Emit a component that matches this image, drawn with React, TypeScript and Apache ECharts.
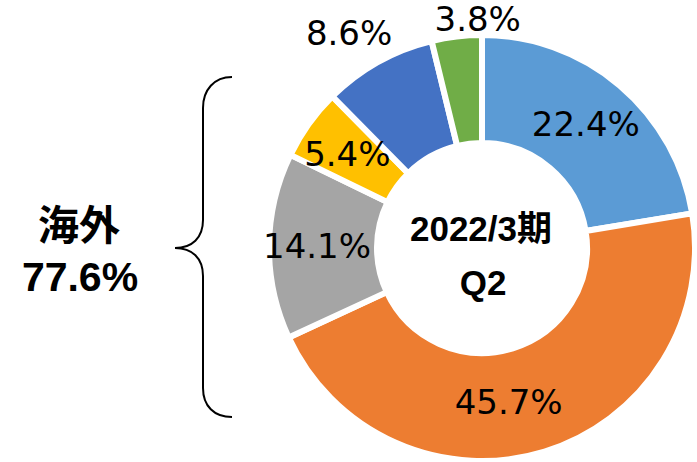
import React, { useEffect, useRef } from "react";
import * as echarts from "echarts";

const categories = ["A", "B", "C", "D", "E", "F"];
const values = [22.4, 45.7, 14.1, 5.4, 8.6, 3.8];
const colors = ["#5B9BD5", "#ED7D31", "#A5A5A5", "#FFC000", "#4472C4", "#70AD47"];
const labelOffsets = [
  [-1, 0],
  [-21, -1],
  [-3, 0],
  [-3, 0],
  [-54, -74],
  [15, -68],
];
const centerTitle = "2022/3期";
const centerSub = "Q2";
const sideTitle = "海外";
const sideValue = "77.6%";

export default function App() {
  const ref = useRef<HTMLDivElement>(null);
  useEffect(() => {
    document.body.style.margin = "0";
    const chart = echarts.init(ref.current!, null, { renderer: "svg" });
    const boldFont = "'Liberation Sans', 'Noto Sans CJK JP', sans-serif";
    chart.setOption({
      animation: false,
      backgroundColor: "#ffffff",
      series: [
        {
          type: "pie",
          center: [482, 248],
          radius: [105, 213],
          startAngle: 90,
          clockwise: true,
          avoidLabelOverlap: false,
          itemStyle: { borderColor: "#ffffff", borderWidth: 6 },
          label: {
            show: true,
            position: "inside",
            color: "#000000",
            fontSize: 34,
            fontFamily: "'DejaVu Sans', sans-serif",
            formatter: (p: any) => p.value.toFixed(1) + "%",
          },
          labelLine: { show: false },
          labelLayout: (p: any) => ({
            dx: labelOffsets[p.dataIndex][0],
            dy: labelOffsets[p.dataIndex][1],
          }),
          emphasis: { disabled: true },
          data: categories.map((c, i) => ({
            name: c,
            value: values[i],
            itemStyle: { color: colors[i] },
          })),
        },
      ],
      graphic: [
        {
          type: "text",
          x: 481,
          y: 228,
          style: {
            text: centerTitle,
            fontSize: 35,
            fontWeight: "bold",
            fontFamily: boldFont,
            fill: "#000",
            align: "center",
            verticalAlign: "middle",
          },
        },
        {
          type: "text",
          x: 483,
          y: 282,
          style: {
            text: centerSub,
            fontSize: 35,
            fontWeight: "bold",
            fontFamily: boldFont,
            fill: "#000",
            align: "center",
            verticalAlign: "middle",
          },
        },
        {
          type: "text",
          x: 79,
          y: 222,
          style: {
            text: sideTitle,
            fontSize: 41,
            fontWeight: "bold",
            fontFamily: "'Noto Sans CJK JP', sans-serif",
            fill: "#000",
            align: "center",
            verticalAlign: "middle",
          },
        },
        {
          type: "text",
          x: 80,
          y: 277,
          style: {
            text: sideValue,
            fontSize: 41,
            fontWeight: "bold",
            fontFamily: boldFont,
            fill: "#000",
            align: "center",
            verticalAlign: "middle",
          },
        },
        {
          type: "group",
          children: [
            { type: "bezierCurve", shape: { x1: 232, y1: 77, cpx1: 214, cpy1: 77, cpx2: 203, cpy2: 90, x2: 203, y2: 108 }, style: { stroke: "#000", lineWidth: 2, fill: "none" } },
            { type: "line", shape: { x1: 203, y1: 108, x2: 203, y2: 220 }, style: { stroke: "#000", lineWidth: 2 } },
            { type: "bezierCurve", shape: { x1: 203, y1: 220, cpx1: 203, cpy1: 238, cpx2: 192, cpy2: 248, x2: 175, y2: 248 }, style: { stroke: "#000", lineWidth: 2, fill: "none" } },
            { type: "bezierCurve", shape: { x1: 175, y1: 248, cpx1: 192, cpy1: 248, cpx2: 203, cpy2: 258, x2: 203, y2: 276 }, style: { stroke: "#000", lineWidth: 2, fill: "none" } },
            { type: "line", shape: { x1: 203, y1: 276, x2: 203, y2: 388 }, style: { stroke: "#000", lineWidth: 2 } },
            { type: "bezierCurve", shape: { x1: 203, y1: 388, cpx1: 203, cpy1: 406, cpx2: 214, cpy2: 417, x2: 232, y2: 417 }, style: { stroke: "#000", lineWidth: 2, fill: "none" } },
          ],
        },
      ],
    });
    return () => chart.dispose();
  }, []);
  return (
    <div
      ref={ref}
      style={{ position: "absolute", left: 0, top: 0, width: 697, height: 462 }}
    />
  );
}
